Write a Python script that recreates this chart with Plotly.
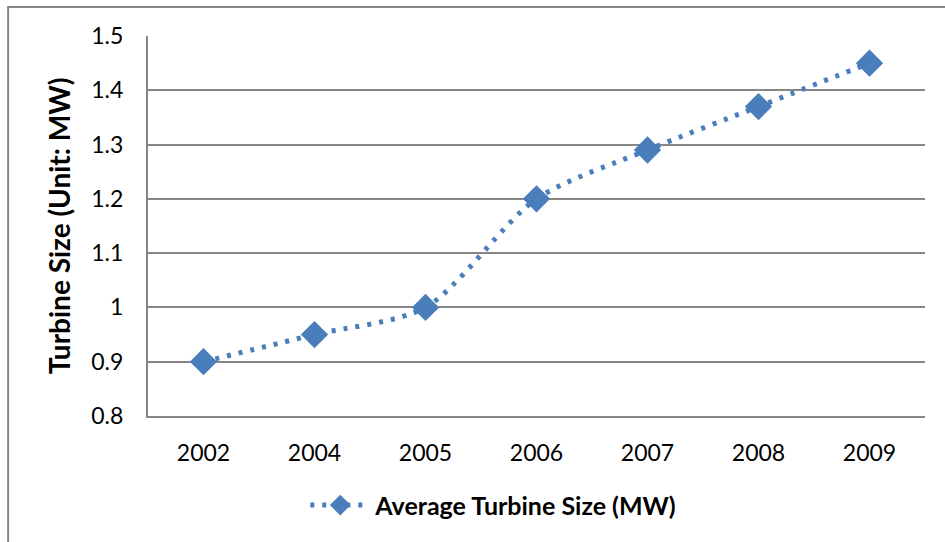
import plotly.graph_objects as go

# Average wind turbine size by year
years = ["2002", "2004", "2005", "2006", "2007", "2008", "2009"]
avg_size_mw = [0.9, 0.95, 1.0, 1.2, 1.29, 1.37, 1.45]
y_ticks = [0.8, 0.9, 1.0, 1.1, 1.2, 1.3, 1.4, 1.5]
y_tick_text = ["0.8", "0.9", "1", "1.1", "1.2", "1.3", "1.4", "1.5"]

series_color = "#4A7EBB"
grid_color = "#868686"
font_family = "Lato, 'Open Sans', sans-serif"

fig = go.Figure()
fig.add_trace(go.Scatter(
    x=years,
    y=avg_size_mw,
    mode="lines+markers",
    name="<b>Average Turbine Size (MW)</b>",
    line=dict(color=series_color, width=5, dash="4px,8px", shape="spline", smoothing=0.8),
    marker=dict(symbol="diamond", size=21, color=series_color),
))

fig.update_layout(
    width=945,
    height=542,
    margin=dict(l=148, r=20, t=36, b=126),
    paper_bgcolor="white",
    plot_bgcolor="white",
    font=dict(family=font_family, size=23, color="#000000"),
    showlegend=True,
    legend=dict(
        orientation="h",
        x=0.445, xanchor="center",
        y=-0.235, yanchor="middle",
        font=dict(size=25, family=font_family),
        itemwidth=60,
    ),
    xaxis=dict(
        type="category",
        showgrid=False,
        showline=True,
        linecolor=grid_color,
        linewidth=2,
        ticks="",
        ticklabelstandoff=15,
        tickfont=dict(size=23),
        range=[-0.5, 6.5],
    ),
    yaxis=dict(
        range=[0.8, 1.5],
        tickvals=y_ticks,
        ticktext=y_tick_text,
        showgrid=True,
        gridcolor=grid_color,
        gridwidth=1.5,
        showline=True,
        linecolor=grid_color,
        linewidth=2,
        zeroline=False,
        ticks="",
        ticklabelstandoff=18,
        tickfont=dict(size=23),
        title=dict(
            text="<b>Turbine Size (Unit: MW)</b>",
            font=dict(size=28, family=font_family),
            standoff=12,
        ),
    ),
    shapes=[
        # chart frame (left and top edges)
        dict(type="path", xref="paper", yref="paper",
             path="M -0.18,-0.5 L -0.18,1.076 L 1.1,1.076",
             line=dict(color=grid_color, width=2)),
    ],
)

fig.write_html("out.html")
